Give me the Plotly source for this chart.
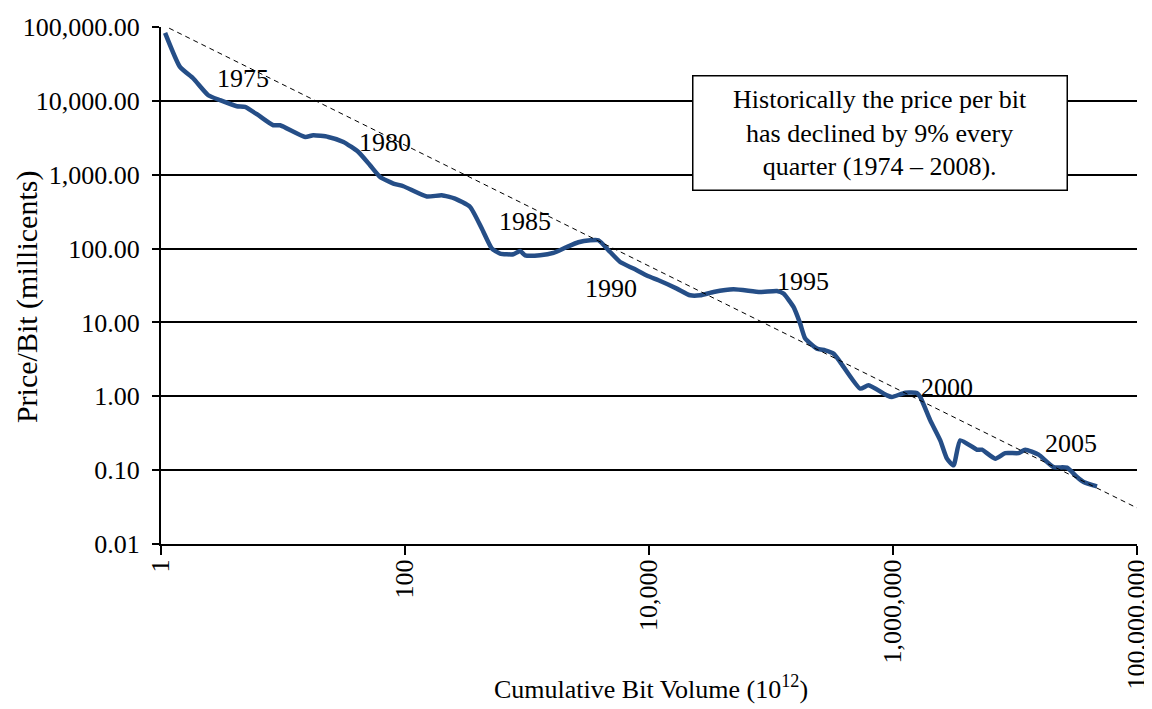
import plotly.graph_objects as go

# Cumulative bit volume (10^12) and price per bit (millicents)
cum_volume = [1.08, 1.43, 1.84, 2.44, 3.05, 4.18, 4.88, 6.28, 8.33, 9.46,
              15.2, 17.7, 23.5, 31.3, 41.5, 51.7, 62.5, 80.3, 97.0, 151,
              200, 257, 342, 426, 515, 602, 774, 878, 965, 1281,
              1647, 2121, 2640, 3294, 3851, 4803, 5800, 7458, 9900, 11960,
              16920, 21760, 26270, 33770, 49270, 81530, 111800, 126600, 152900, 173500,
              190800, 237900, 278200, 325400, 369300, 538800, 630200, 891900, 980200, 1.26e6,
              1.571e6, 1.673e6, 2.02e6, 2.44e6, 2.769e6, 3.136e6, 3.558e6, 4.879e6, 5.362e6, 6.89e6,
              8.325e6, 1.07e7, 1.214e7, 1.561e7, 2.072e7, 2.669e7, 3.223e7, 3.65e7, 4.7e7]
price_per_bit = [83200, 28800, 20070, 11920, 10200, 8460, 8275, 6390, 4675, 4675,
                 3247, 3423, 3247, 2778, 2033, 1343, 932.5, 759, 698, 506,
                 527, 475, 365.9, 186.6, 100, 85.5, 83.7, 92.8, 81.1, 81.1,
                 87.2, 105.1, 121.7, 129.5, 129.5, 89.9, 65.8, 53.6, 42.1, 37.2,
                 28.7, 23.3, 23.3, 25.8, 28.1, 25.8, 26.7, 24.6, 16.2, 9.64,
                 6.04, 4.42, 4.19, 3.78, 2.91, 1.27, 1.41, 1.03, 0.977, 1.12,
                 1.107, 0.977, 0.472, 0.253, 0.143, 0.116, 0.253, 0.189, 0.189, 0.143,
                 0.170, 0.170, 0.189, 0.162, 0.110, 0.108, 0.0806, 0.0690, 0.0603]

# 9% per quarter trend line
trend_x = [0.739, 1e8]
trend_y = [140000, 0.0308]

# year labels (log10 of position in data units)
year_labels = ["1975", "1980", "1985", "1990", "1995", "2000", "2005"]
year_logx = [0.672, 1.837, 2.985, 3.690, 5.264, 6.445, 7.462]
year_logy = [4.307, 3.440, 2.370, 1.462, 1.557, 0.121, -0.637]

x_ticks = [1, 100, 1e4, 1e6, 1e8]
x_ticktext = ["1", "100", "10,000", "1,000,000", "100,000,000"]
y_ticks = [0.01, 0.1, 1, 10, 100, 1000, 1e4, 1e5]
y_ticktext = ["0.01", "0.10", "1.00", "10.00", "100.00", "1,000.00", "10,000.00", "100,000.00"]

FONT = "Liberation Serif"

fig = go.Figure()
fig.add_trace(go.Scatter(x=cum_volume, y=price_per_bit, mode="lines",
                         line=dict(color="#254e87", width=4.5, shape="spline", smoothing=0.5),
                         showlegend=False))
fig.add_trace(go.Scatter(x=trend_x, y=trend_y, mode="lines",
                         line=dict(color="black", width=1, dash="5px,4px"),
                         showlegend=False))

annotations = []
for t, lx, ly in zip(year_labels, year_logx, year_logy):
    annotations.append(dict(x=lx, y=ly, xref="x", yref="y", text=t, showarrow=False,
                            xanchor="center", yanchor="middle",
                            font=dict(family=FONT, size=26, color="black")))

annotations.append(dict(x=0.737, y=0.7956, xref="paper", yref="paper",
                        xanchor="center", yanchor="middle",
                        text="Historically the price per bit<br>has declined by 9% every<br>quarter (1974 \u2013 2008).",
                        showarrow=False, align="center", width=367, height=107,
                        bordercolor="black", borderwidth=1.5, borderpad=3, bgcolor="white",
                        font=dict(family=FONT, size=26, color="black")))

# axis titles
annotations.append(dict(x=0.502, y=-0.2784, xref="paper", yref="paper",
                        xanchor="center", yanchor="middle", showarrow=False,
                        text="Cumulative Bit Volume (10<sup>12</sup>)",
                        font=dict(family=FONT, size=26, color="black")))
annotations.append(dict(x=-0.1373, y=0.4776, xref="paper", yref="paper",
                        xanchor="center", yanchor="middle", showarrow=False, textangle=-90,
                        text="Price/Bit (millicents)",
                        font=dict(family=FONT, size=30, color="black")))

# page body has an 8px margin, so shrink the figure by that much
fig.update_layout(
    width=1144, height=701,
    margin=dict(l=153, r=15, t=19, b=165),
    paper_bgcolor="white", plot_bgcolor="white",
    font=dict(family=FONT, size=26, color="black"),
    annotations=annotations,
    xaxis=dict(type="log", range=[0, 8], tickvals=x_ticks, ticktext=x_ticktext,
               tickangle=-90, ticks="outside", ticklen=9, tickwidth=1.5, tickcolor="black",
               showline=True, linecolor="black", linewidth=2, showgrid=False, zeroline=False,
               ticklabelstandoff=-6, automargin=False,
               tickfont=dict(family=FONT, size=26, color="black")),
    yaxis=dict(type="log", range=[-2, 5], tickvals=y_ticks, ticktext=y_ticktext,
               ticks="outside", ticklen=7, tickwidth=1.5, tickcolor="black",
               showline=True, linecolor="black", linewidth=2,
               showgrid=True, gridcolor="black", gridwidth=1.5, zeroline=False,
               ticklabelstandoff=7, automargin=False,
               tickfont=dict(family=FONT, size=26, color="black")),
)

fig.write_html("out.html")
